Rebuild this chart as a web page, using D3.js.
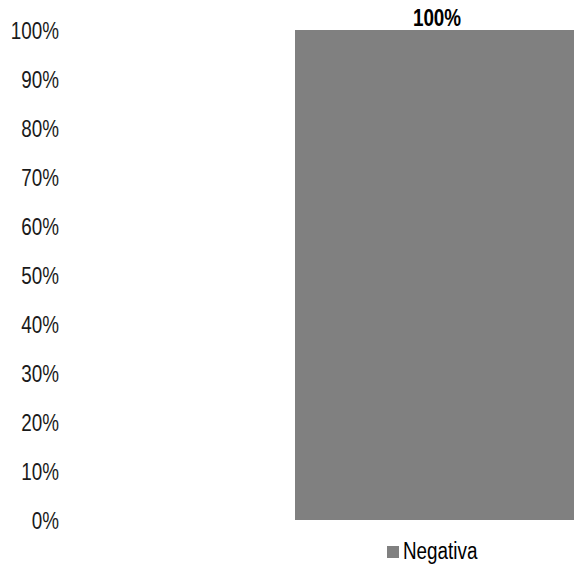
<!DOCTYPE html>
<html>
<head>
<meta charset="utf-8">
<script src="https://cdn.jsdelivr.net/npm/d3@7/dist/d3.min.js"></script>
<style>
html,body{margin:0;padding:0;background:#fff;overflow:hidden;}
svg{display:block;font-family:"Liberation Sans Narrow","Arial Narrow","Liberation Sans",Arial,sans-serif;}
</style>
</head>
<body>
<svg id="chart" width="574" height="565"></svg>
<script>
const categories = ["Negativa"];
const seriesNames = ["Negativa"];
const values = [1.0];
const barLabels = ["100%"];
const tickValues = [0,0.1,0.2,0.3,0.4,0.5,0.6,0.7,0.8,0.9,1.0];
const tickLabels = ["0%","10%","20%","30%","40%","50%","60%","70%","80%","90%","100%"];

const narrow = 0.82;
const svg = d3.select("#chart");
const y = d3.scaleLinear().domain([0,1]).range([520,30]);
const x = d3.scaleBand().domain(categories).range([295,579]).paddingInner(0).paddingOuter(0);

const yAxis = d3.axisLeft(y).tickValues(tickValues).tickFormat((d,i)=>tickLabels[i]).tickSize(0).tickPadding(0);
const gy = svg.append("g").attr("transform","translate(59,0)").call(yAxis);
gy.select(".domain").remove();
gy.selectAll("text")
  .attr("font-size",23)
  .attr("fill","#1a1a1a")
  .attr("font-family","Liberation Sans Narrow, Arial Narrow, Liberation Sans, sans-serif")
  .attr("x",0)
  .attr("dy","0.35em")
  .attr("transform",`scale(${narrow},1)`);

svg.selectAll("rect.bar").data(values).join("rect")
  .attr("class","bar")
  .attr("x",(d,i)=>x(categories[i]))
  .attr("width",x.bandwidth())
  .attr("y",d=>y(d))
  .attr("height",d=>y(0)-y(d))
  .attr("fill","#808080");

svg.selectAll("text.lbl").data(values).join("text")
  .attr("class","lbl")
  .attr("transform",(d,i)=>`translate(${x(categories[i])+x.bandwidth()/2},${y(d)-4}) scale(${narrow},1)`)
  .attr("text-anchor","middle")
  .attr("font-size",23)
  .attr("font-weight","bold")
  .attr("fill","#000")
  .text((d,i)=>barLabels[i]);

const lg = svg.append("g").attr("transform","translate(387,546)");
lg.append("rect").attr("width",12).attr("height",12).attr("fill","#808080");
lg.append("text").attr("transform",`translate(16,13) scale(${narrow},1)`).attr("font-size",23).attr("fill","#000").text(seriesNames[0]);
</script>
</body>
</html>
